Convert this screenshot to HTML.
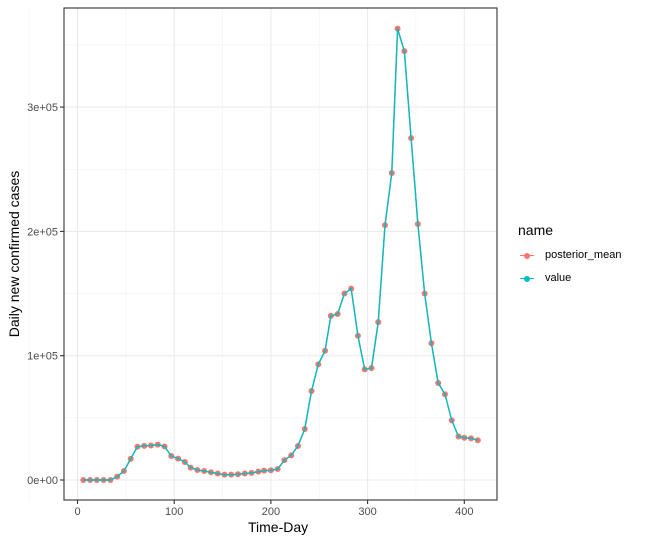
<!DOCTYPE html>
<html><head><meta charset="utf-8"><style>
body{margin:0;background:#fff;font-family:"Liberation Sans",Arial,sans-serif}
svg text{font-family:"Liberation Sans",Arial,sans-serif}
</style></head><body>
<svg id="c" width="646" height="544"></svg>
<script>
const days=[6,13,20,27,34,41,48,55,62,69,76,83,90,97,104,111,117,124,131,138,145,152,159,166,173,180,187,193,200,207,214,221,228,235,242,249,256,262,269,276,283,290,297,304,311,318,325,331,338,345,352,359,366,373,380,387,394,400,407,414];
const valueSeries=[0,0,0,0,0,2700,7200,17000,26800,27500,27800,28500,27000,19300,17200,14500,10000,8000,7200,6200,5200,4300,4300,4600,5200,5700,6700,7500,7800,8800,16000,19800,27400,41000,71600,93000,104000,132000,133500,150000,154000,116000,89000,90000,127000,205000,247000,363000,345000,275000,206000,150000,110000,78000,69000,48000,35000,34000,33500,32000];
const posteriorMean=valueSeries.slice();
const xTicks=[0,100,200,300,400];
const yTicks=[0,100000,200000,300000];
const yTickLabels=["0e+00","1e+05","2e+05","3e+05"];
const NS="http://www.w3.org/2000/svg",svg=document.getElementById('c');
const L=64,R=497,T=8,B=500;
const x=d=>77.5+d*0.967, y=v=>480-v*0.001243;
function mk(t,a,p){const e=document.createElementNS(NS,t);for(const k in a)e.setAttribute(k,a[k]);(p||svg).appendChild(e);return e;}
const grid=mk('g',{});


for(let i=0;i<xTicks.length;i++){const xv=x(xTicks[i]);mk('line',{x1:xv,x2:xv,y1:T,y2:B,stroke:'#ebebeb','stroke-width':1.1},grid);
 if(i<xTicks.length-1){const xm=x((xTicks[i]+xTicks[i+1])/2);mk('line',{x1:xm,x2:xm,y1:T,y2:B,stroke:'#f2f2f2','stroke-width':0.6},grid);}}
mk('line',{x1:x(-50),x2:x(-50),y1:T,y2:B,stroke:'#f2f2f2','stroke-width':0.6},grid);
for(let i=0;i<yTicks.length;i++){const yv=y(yTicks[i]);mk('line',{x1:L,x2:R,y1:yv,y2:yv,stroke:'#ebebeb','stroke-width':1.1},grid);
 const ym=y(yTicks[i]+50000);mk('line',{x1:L,x2:R,y1:ym,y2:ym,stroke:'#f2f2f2','stroke-width':0.6},grid);}
const p1=mk('polyline',{points:days.map((d,i)=>x(d)+','+y(posteriorMean[i])).join(' '),fill:'none',stroke:'#F8766D','stroke-width':1.4});


days.forEach((d,i)=>{const c=mk('circle',{cx:x(d),cy:y(posteriorMean[i]),r:3,fill:'#F8766D'});

});
const p2=mk('polyline',{points:days.map((d,i)=>x(d)+','+y(valueSeries[i])).join(' '),fill:'none',stroke:'#00BFC4','stroke-width':1.4});


days.forEach((d,i)=>{const c=mk('circle',{cx:x(d),cy:y(valueSeries[i]),r:1.2,fill:'#00BFC4','fill-opacity':0.35});

});
const fr=mk('rect',{x:L,y:T,width:R-L,height:B-T,fill:'none',stroke:'#333','stroke-width':1.1});


xTicks.forEach(t=>{mk('line',{x1:x(t),x2:x(t),y1:B,y2:B+4,stroke:'#333','stroke-width':1.1});
 const tx=mk('text',{x:x(t),y:B+15,'text-anchor':'middle','font-size':11,fill:'#4d4d4d'});tx.textContent=t;
 
 });
yTicks.forEach((t,i)=>{mk('line',{x1:L-4,x2:L,y1:y(t),y2:y(t),stroke:'#333','stroke-width':1.1});
 const tx=mk('text',{x:L-6,y:y(t)+4,'text-anchor':'end','font-size':11,fill:'#4d4d4d'});tx.textContent=yTickLabels[i];
 
 });
</script>
<div style="position:absolute;left:0;top:0;width:646px;height:544px;pointer-events:none">
<div style="position:absolute;left:248px;top:519px;font-size:14px;color:#000">Time-Day</div>
<div style="position:absolute;left:14px;top:254px;font-size:14px;transform:translate(-50%,-50%) rotate(-90deg);white-space:nowrap">Daily new confirmed cases</div>
<div style="position:absolute;left:518px;top:222px">
<div style="font-size:14px">name</div>
<div style="position:absolute;top:27px;left:0;width:200px;height:14px">
<span style="position:absolute;left:2px;top:6px;width:14px;height:1px;background:#F8766D"></span>
<span style="position:absolute;left:6px;top:4px;width:6px;height:6px;border-radius:50%;background:#F8766D"></span>
<span style="position:absolute;left:27px;top:0;font-size:11px">posterior_mean</span></div>
<div style="position:absolute;top:50px;left:0;width:200px;height:14px">
<span style="position:absolute;left:2px;top:6px;width:14px;height:1px;background:#00BFC4"></span>
<span style="position:absolute;left:6px;top:4px;width:6px;height:6px;border-radius:50%;background:#00BFC4"></span>
<span style="position:absolute;left:27px;top:0;font-size:11px">value</span></div>
</div></div>
</body></html>
